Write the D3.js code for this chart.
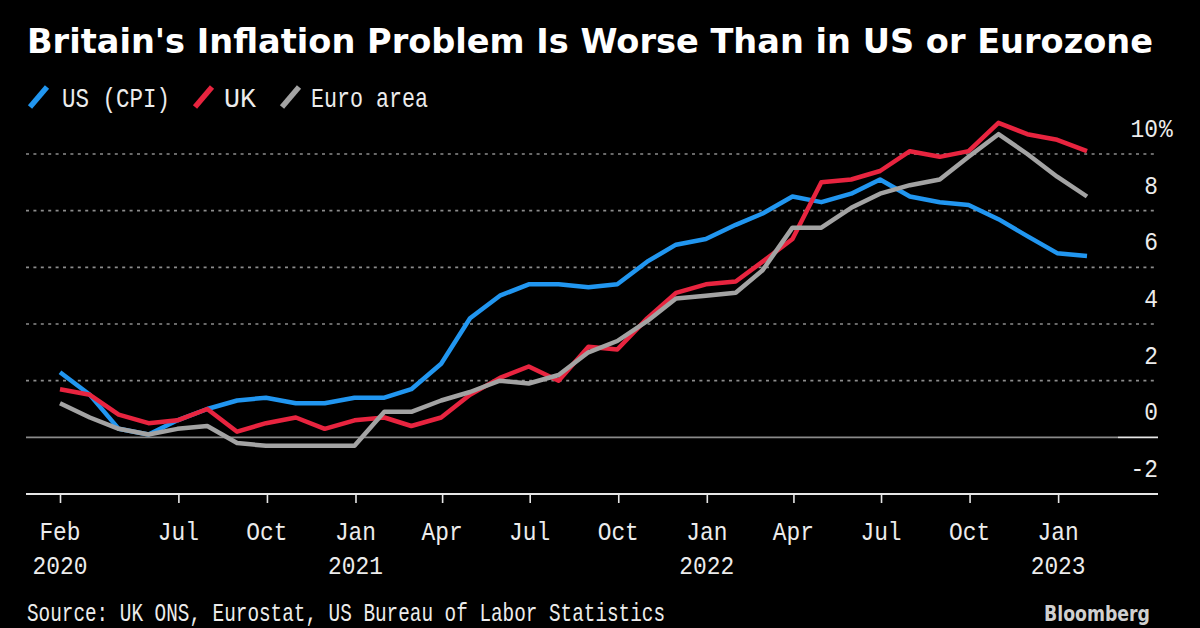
<!DOCTYPE html>
<html><head><meta charset="utf-8">
<script src="https://cdn.jsdelivr.net/npm/d3@7"></script>
<style>
html,body{margin:0;padding:0;background:#000;}
svg{display:block;}
</style></head>
<body>
<svg id="c" width="1200" height="628"></svg>
<script>
// ---- data ----
const months = ["2020-02","2020-03","2020-04","2020-05","2020-06","2020-07","2020-08","2020-09","2020-10","2020-11","2020-12",
"2021-01","2021-02","2021-03","2021-04","2021-05","2021-06","2021-07","2021-08","2021-09","2021-10","2021-11","2021-12",
"2022-01","2022-02","2022-03","2022-04","2022-05","2022-06","2022-07","2022-08","2022-09","2022-10","2022-11","2022-12",
"2023-01"];
const usCPI = [2.3,1.5,0.3,0.1,0.6,1.0,1.3,1.4,1.2,1.2,1.4,
1.4,1.7,2.6,4.2,5.0,5.4,5.4,5.3,5.4,6.2,6.8,7.0,
7.5,7.9,8.5,8.3,8.6,9.1,8.5,8.3,8.2,7.7,7.1,6.5,
6.4];
const ukCPI = [1.7,1.5,0.8,0.5,0.6,1.0,0.2,0.5,0.7,0.3,0.6,
0.7,0.4,0.7,1.5,2.1,2.5,2.0,3.2,3.1,4.2,5.1,5.4,
5.5,6.2,7.0,9.0,9.1,9.4,10.1,9.9,10.1,11.1,10.7,10.5,
10.1];
const euroHICP = [1.2,0.7,0.3,0.1,0.3,0.4,-0.2,-0.3,-0.3,-0.3,-0.3,
0.9,0.9,1.3,1.6,2.0,1.9,2.2,3.0,3.4,4.1,4.9,5.0,
5.1,5.9,7.4,7.4,8.1,8.6,8.9,9.1,9.9,10.7,10.0,9.2,
8.5];
const seriesNames = ["US (CPI)","UK","Euro area"];
const seriesColors = ["#2196f0","#e8243f","#a3a3a3"];
const tickDates = ["2020-02-29","2020-07-01","2020-10-01","2021-01-01","2021-04-01","2021-07-01","2021-10-01","2022-01-01","2022-04-01","2022-07-01","2022-10-01","2023-01-01"];
const tickMonthLabels = ["Feb","Jul","Oct","Jan","Apr","Jul","Oct","Jan","Apr","Jul","Oct","Jan"];
const tickYearLabels = ["2020","","","2021","","","","2022","","","","2023"];
const yTicks = [-2,0,2,4,6,8,10];
const titleText = "Britain's Inflation Problem Is Worse Than in US or Eurozone";
const sourceText = "Source: UK ONS, Eurostat, US Bureau of Labor Statistics";

// ---- setup ----
const svg = d3.select("#c");
svg.append("rect").attr("width",1200).attr("height",628).attr("fill","#000");
const mono = "'Liberation Mono', 'DejaVu Sans Mono', monospace";
const txtCol = "#ececec";

const monthEnd = s => { const [y,m] = s.split("-").map(Number); return new Date(Date.UTC(y, m, 0)); };
const dates = months.map(monthEnd);
const x = d3.scaleUtc().domain([dates[0], dates[dates.length-1]]).range([60,1087]);
const y = d3.scaleLinear().domain([-2,10]).range([494,154]);

const L = 26, R = 1158;

// gridlines
yTicks.forEach(v => {
  if (v === -2) return;
  if (v === 0) {
    svg.append("line").attr("x1",L).attr("x2",1118).attr("y1",y(0)).attr("y2",y(0))
      .attr("stroke","#8a8a8a").attr("stroke-width",1.6);
    svg.append("line").attr("x1",1118).attr("x2",R).attr("y1",y(0)).attr("y2",y(0))
      .attr("stroke","#e6e6e6").attr("stroke-width",1.6);
  } else {
    svg.append("line").attr("x1",L).attr("x2",R).attr("y1",y(v)).attr("y2",y(v))
      .attr("stroke","#8c8c8c").attr("stroke-width",1.6).attr("stroke-dasharray","3,4.4");
  }
});

function stretchText(sel, cx) {
  return sel.attr("transform",`translate(${cx},0) scale(0.88,1) translate(${-cx},0)`);
}

// y labels
yTicks.forEach(v => {
  const t = svg.append("text").attr("x",R).attr("y",y(v)-17).attr("text-anchor","end")
    .attr("fill",txtCol).attr("font-family",mono).attr("font-size",26)
    .text(v);
  stretchText(t, R);
  if (v === 10) {
    const p = svg.append("text").attr("x",R+1).attr("y",y(v)-17).attr("text-anchor","start")
      .attr("fill",txtCol).attr("font-family",mono).attr("font-size",26).text("%");
    stretchText(p, R);
  }
});

// x axis
const xAxis = d3.axisBottom(x)
  .tickValues(tickDates.map(s => new Date(s+"T00:00:00Z")))
  .tickSize(9).tickSizeOuter(0).tickFormat("");
const gx = svg.append("g").attr("transform",`translate(0,${y(-2)})`).call(xAxis);
gx.select(".domain").remove();
gx.selectAll(".tick line").attr("stroke","#e6e6e6").attr("stroke-width",1.6);
svg.append("line").attr("x1",L).attr("x2",R).attr("y1",y(-2)).attr("y2",y(-2))
  .attr("stroke","#e6e6e6").attr("stroke-width",1.8);

tickDates.forEach((s,i) => {
  const tx = x(new Date(s+"T00:00:00Z"));
  stretchText(svg.append("text").attr("x",tx).attr("y",540).attr("text-anchor","middle")
    .attr("fill",txtCol).attr("font-family",mono).attr("font-size",26)
    .text(tickMonthLabels[i]), tx);
  if (tickYearLabels[i]) {
    stretchText(svg.append("text").attr("x",tx).attr("y",574).attr("text-anchor","middle")
      .attr("fill",txtCol).attr("font-family",mono).attr("font-size",26)
      .text(tickYearLabels[i]), tx);
  }
});

// lines
const allSeries = [usCPI, ukCPI, euroHICP];
const line = d3.line().x((d,i) => x(dates[i])).y(d => y(d));
allSeries.forEach((vals,k) => {
  svg.append("path").datum(vals).attr("d",line).attr("fill","none")
    .attr("stroke",seriesColors[k]).attr("stroke-width",4.5)
    .attr("stroke-linejoin","round").attr("stroke-linecap","butt");
});

// title
svg.append("text").attr("x",27).attr("y",53).attr("fill","#fff")
  .attr("font-family","'DejaVu Sans', sans-serif").attr("font-weight","bold").attr("font-size",33)
  .attr("textLength",1126).attr("lengthAdjust","spacingAndGlyphs").text(titleText);

// legend
const legendX = [28,193,280];
const legendTextX = [62,224,311];
const legendW = [108,32,117];
seriesNames.forEach((n,k) => {
  svg.append("line").attr("x1",legendX[k]+2).attr("y1",107).attr("x2",legendX[k]+19).attr("y2",87)
    .attr("stroke",seriesColors[k]).attr("stroke-width",5.5);
  svg.append("text").attr("x",legendTextX[k]).attr("y",107).attr("fill",txtCol)
    .attr("font-family",mono).attr("font-size",28)
    .attr("textLength",legendW[k]).attr("lengthAdjust","spacingAndGlyphs").text(n);
});

// source
svg.append("text").attr("x",27).attr("y",621).attr("fill",txtCol)
  .attr("font-family",mono).attr("font-size",25)
  .attr("textLength",638).attr("lengthAdjust","spacingAndGlyphs").text(sourceText);

// logo
svg.append("text").attr("x",1150).attr("y",621).attr("text-anchor","end").attr("fill","#d0d0d0")
  .attr("font-family","'DejaVu Sans', sans-serif").attr("font-weight","bold").attr("font-size",21)
  .attr("textLength",106).attr("lengthAdjust","spacingAndGlyphs").text("Bloomberg");
</script>
</body></html>
